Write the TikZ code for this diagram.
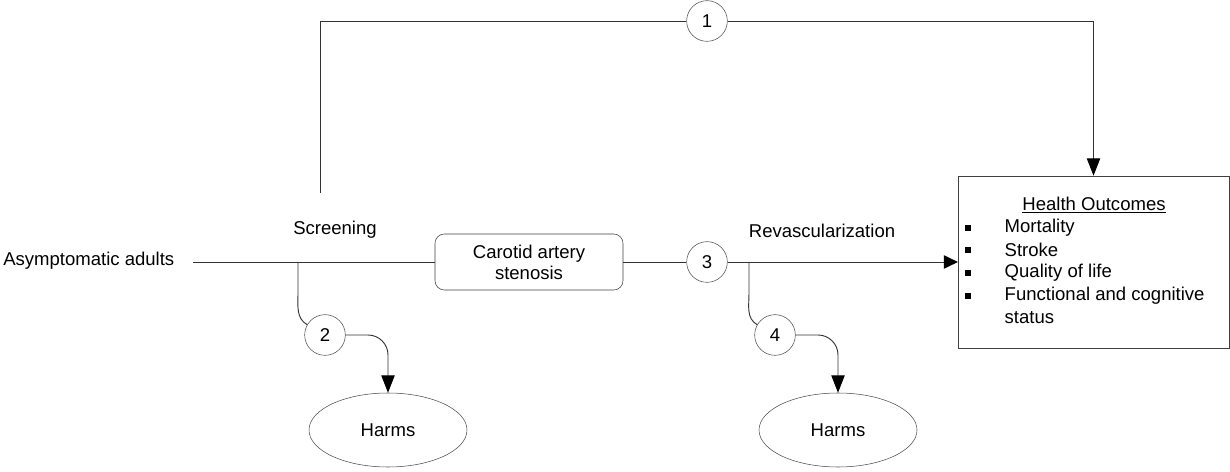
\documentclass[tikz,border=0pt]{standalone}
\usepackage{fontspec}
\setmainfont{Liberation Sans}
\usepackage{tikz}
\usetikzlibrary{arrows.meta,positioning,shapes.geometric}
\tikzset{
  kq/.style={draw=black!70,circle,minimum size=30.5pt,inner sep=0pt,fill=white},
  stenbox/.style={draw=black!75,rounded corners=7pt,minimum width=141pt,minimum height=42pt,align=center,inner sep=0pt},
  outbox/.style={draw=black!75,minimum width=203pt,minimum height=129pt,inner sep=0pt},
  harm/.style={draw=black!70,ellipse,minimum width=118.5pt,minimum height=55.5pt,inner sep=0pt},
  arr/.style={-{Triangle[length=13pt,width=10pt,color=black]}},
  sarr/.style={-{Triangle[length=10.5pt,width=10pt,color=black]}},
  blt/.style={fill=black,inner sep=0pt,minimum size=4pt},
}

\begin{document}
\begin{tikzpicture}[x=0.75pt,y=0.75pt,
  every node/.style={font=\fontsize{13.9}{15.8}\selectfont},
  ln/.style={draw=black!80,line width=0.7pt},
  itm/.style={anchor=west}]
 \useasboundingbox (0,0) rectangle (1230,471);
 % ---- main chain
 \node[anchor=east] (adults) at (179,210) {Asymptomatic adults};
 \coordinate (start) at (193,209);
 \node[stenbox] (sten) at (529,209) {Carotid artery\\stenosis};
 \node[kq] (kq3) at (707,209) {3};
 \node[outbox] (out) at (1093.5,209) {};
 \draw[ln] (start)--(sten.west);
 \draw[ln] (sten.east)--(kq3.west);
 \draw[ln,sarr] (kq3.east)--(out.west);
 \node (scr) at (335,241) {Screening};
 \node (rev) at (822,240) {Revascularization};
 % ---- overarching link
 \coordinate (kq1root) at (320,278);
 \node[kq] (kq1) at (707,450) {1};
 \draw[ln] (kq1root)|-(kq1.west);
 \draw[ln,arr] (kq1.east)-|(out.north);
 % ---- harms of screening
 \coordinate (b2) at (298,209);
 \node[kq] (kq2) at (325,136) {2};
 \node[harm] (harm1) at (388,41) {Harms};
 \draw[ln] (b2)--(298,178) to[out=-90,in=150] (kq2.150);
 \draw[ln,arr,rounded corners=15pt] (kq2.east)-|(harm1.north);
 % ---- harms of revascularization
 \coordinate (b4) at (749,209);
 \node[kq] (kq4) at (775,136) {4};
 \node[harm] (harm2) at (838,41) {Harms};
 \draw[ln] (b4)--(749,178) to[out=-90,in=150] (kq4.150);
 \draw[ln,arr,rounded corners=15pt] (kq4.east)-|(harm2.north);
 % ---- outcomes
 \node (ho) at (1094,266) {\underline{Health Outcomes}};
 \foreach \y/\t/\n in {243/Mortality/a,221/Stroke/b,198/Quality of life/c,175/Functional and cognitive/d}{
   \node[blt] (blt\n) at (968,\y) {};
   \node[itm] (itm\n) at (1000,\y) {\t};}
 \node[itm] (itme) at (1000,153) {status};
\end{tikzpicture}
\end{document}
